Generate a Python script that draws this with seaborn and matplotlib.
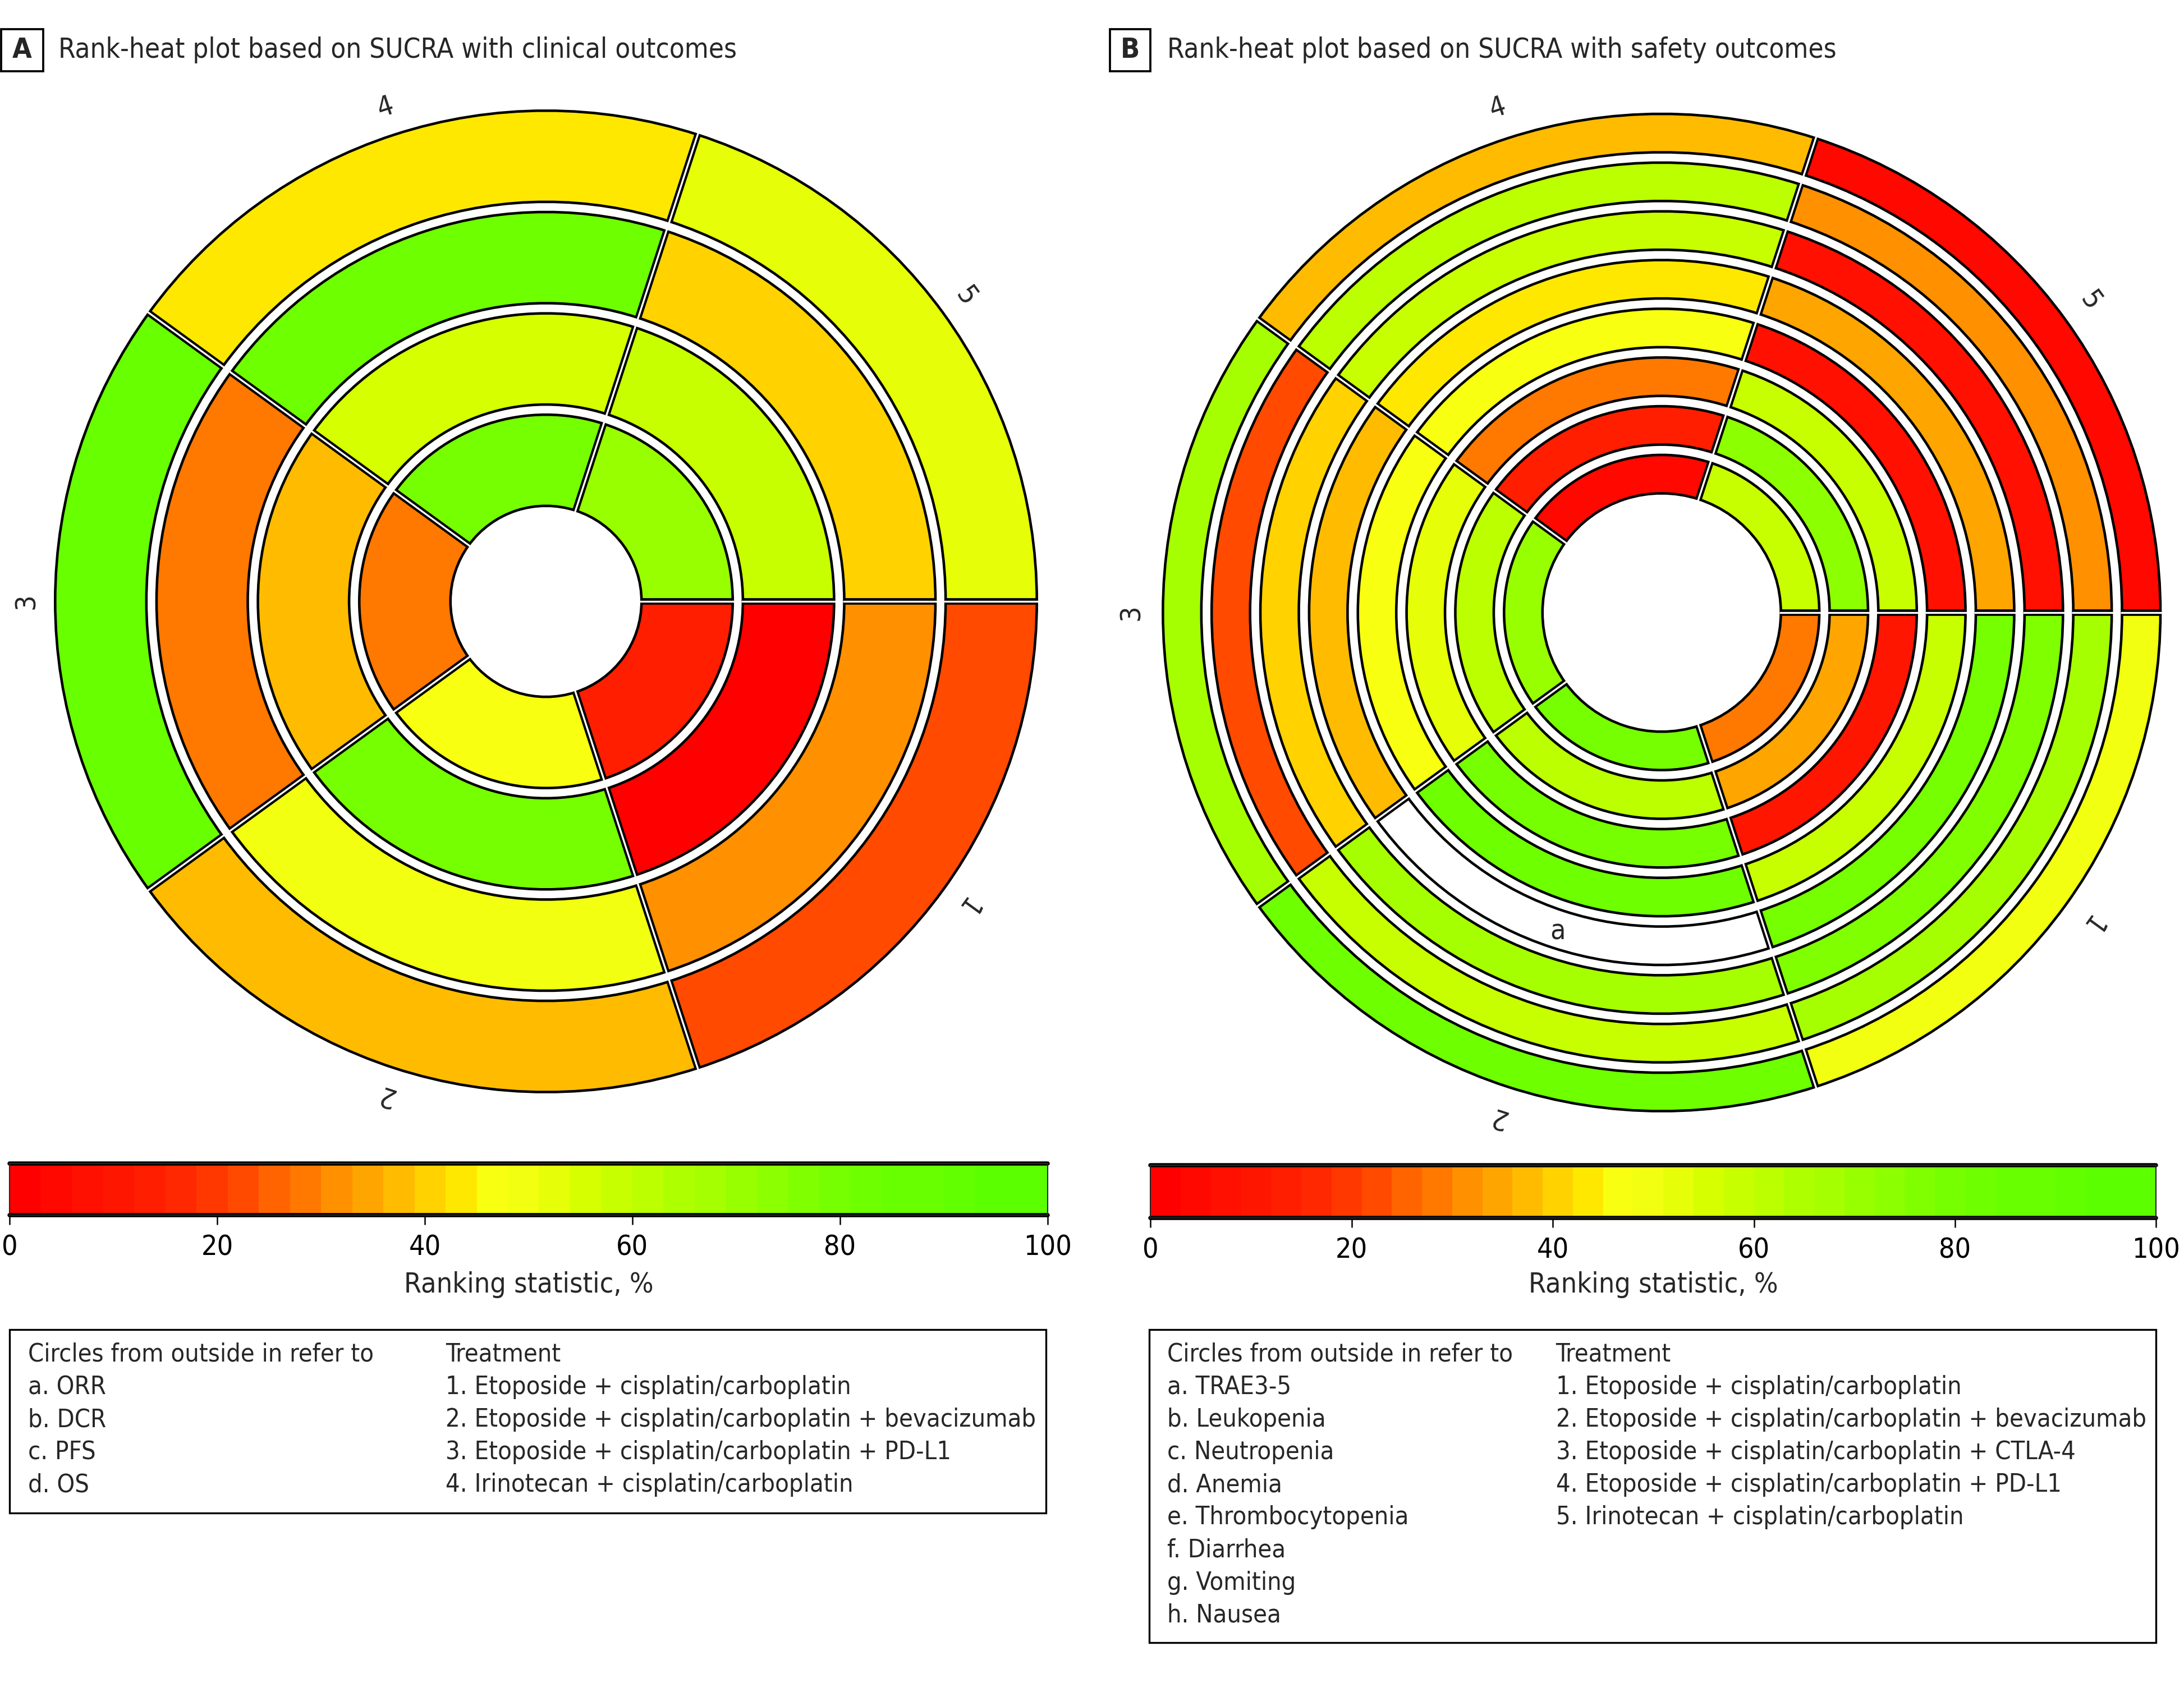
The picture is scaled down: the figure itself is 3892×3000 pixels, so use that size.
import os
import numpy as np
import matplotlib
matplotlib.use("Agg")
import matplotlib.pyplot as plt
import seaborn as sns
from matplotlib import font_manager as fm
from matplotlib.colors import ListedColormap, BoundaryNorm
from matplotlib.cm import ScalarMappable
from matplotlib.patches import Rectangle

sns.set_theme(style="white")

# ------------------------------------------------------------------
#  Data (SUCRA, %), sectors = treatments 1..5, rings from outside in
# ------------------------------------------------------------------
treat_labels = ["1", "2", "3", "4", "5"]

# panel A - clinical outcomes
orr = [21, 37, 86, 43, 51]
dcr = [31, 48, 28, 81, 40]
pfs = [1, 80, 37, 56, 58]
os_ = [14, 47, 28, 79, 69]

# panel B - safety outcomes
trae = [48, 83, 67, 37, 4]
leukopenia = [68, 57, 23, 62, 31]
neutropenia = [77, 67, 40, 58, 6]
anemia = [79, np.nan, 37, 43, 34]
thrombocytopenia = [59, 81, 46, 47, 6]
diarrhea = [9, 80, 53, 28, 59]
vomiting = [34, 60, 62, 14, 74]
nausea = [28, 78, 70, 4, 59]

outcomes_a = ["a. ORR", "b. DCR", "c. PFS", "d. OS"]
treatments_a = ["1. Etoposide + cisplatin/carboplatin",
                "2. Etoposide + cisplatin/carboplatin + bevacizumab",
                "3. Etoposide + cisplatin/carboplatin + PD-L1",
                "4. Irinotecan + cisplatin/carboplatin"]
outcomes_b = ["a. TRAE3-5", "b. Leukopenia", "c. Neutropenia", "d. Anemia",
              "e. Thrombocytopenia", "f. Diarrhea", "g. Vomiting", "h. Nausea"]
treatments_b = ["1. Etoposide + cisplatin/carboplatin",
                "2. Etoposide + cisplatin/carboplatin + bevacizumab",
                "3. Etoposide + cisplatin/carboplatin + CTLA-4",
                "4. Etoposide + cisplatin/carboplatin + PD-L1",
                "5. Irinotecan + cisplatin/carboplatin"]


# ------------------------------------------------------------------
#  Font: look for a narrow / condensed face, else shrink DejaVu
# ------------------------------------------------------------------
def pick_narrow_font():
    files = fm.findSystemFonts() + [f.fname for f in fm.fontManager.ttflist]
    prefs = ["liberationsansnarrow-regular", "dejavusanscondensed.ttf",
             "robotocondensed-regular", "opensans_condensed-regular",
             "opensanscondensed-regular", "notosans-condensed.ttf",
             "notosans-condensed"]
    for p in prefs:
        for f in files:
            if p in os.path.basename(f).lower():
                return f
    return None


narrow = pick_narrow_font()
if narrow:
    fm.fontManager.addfont(narrow)
    fam = fm.FontProperties(fname=narrow).get_name()
    plt.rcParams["font.family"] = [fam, "DejaVu Sans"]
    if "condensed" in narrow.lower():
        plt.rcParams["font.stretch"] = "condensed"
    FS = 12
else:
    plt.rcParams["font.family"] = ["DejaVu Sans"]
    FS = 10
FS_LEG = FS * 0.9

# ------------------------------------------------------------------
#  Colour scale (red -> yellow -> green, 3-point steps)
# ------------------------------------------------------------------
ramp = ["#FF0000", "#FF0800", "#FF1000", "#FF1600", "#FF1E00", "#FF2800",
        "#FF3800", "#FF4A00", "#FF6400", "#FF7800", "#FF9000", "#FFA500",
        "#FFBB00", "#FFD200", "#FFE800", "#F8FF10", "#F2FF10", "#E6FF08",
        "#D6FF00", "#C8FF00", "#BBFF00", "#AEFF00", "#A6FF00", "#98FF00",
        "#8CFF00", "#80FF00", "#76FF00", "#6EFF00", "#68FF00", "#68FF00",
        "#62FF00", "#5CFF00", "#5CFF00", "#5CFF00"]
cmap = ListedColormap(ramp)
bounds = list(range(0, 100, 3)) + [100]
norm = BoundaryNorm(bounds, cmap.N)

# layout is worked out in reference pixels (shrunk 1568x1209)
W, H = 1568.0, 1209.0

fig = plt.figure(figsize=(3892 / 300, 3000 / 300), dpi=300)


def rank_heat(cx, cy, half, rings, hole, ring_w, gap, label_r, extra=None):
    ax = fig.add_axes([(cx - half) / W, 1 - (cy + half) / H, 2 * half / W, 2 * half / H],
                      projection="polar")
    ax.set_theta_zero_location("E")
    ax.set_theta_direction(-1)
    ax.set_ylim(0, half)
    ax.set_axis_off()

    n = len(rings)
    nsec = len(rings[0])
    step = 360 / nsec
    mids = np.deg2rad(np.arange(nsec) * step + step / 2)
    outer = hole + n * ring_w + (n - 1) * gap
    for i, vals in enumerate(rings):
        top = outer - i * (ring_w + gap)
        bottom = top - ring_w
        cols = ["white" if np.isnan(v) else cmap(norm(v)) for v in vals]
        ax.bar(mids, ring_w, width=np.deg2rad(step), bottom=bottom, color=cols,
               edgecolor="black", linewidth=1.1, align="center")
        for k in range(nsec):
            th = np.deg2rad(k * step)
            ax.plot([th, th], [bottom, top], color="black", lw=2.8,
                    solid_capstyle="butt")
            ax.plot([th, th], [bottom - 1.2, top + 1.2], color="white", lw=0.8,
                    solid_capstyle="butt")

    for k, lab in enumerate(treat_labels[:nsec]):
        mid = k * step + step / 2
        ax.text(np.deg2rad(mid), label_r, lab, rotation=(-mid - 90) % 360,
                rotation_mode="anchor", ha="center", va="center", fontsize=FS)
    if extra is not None:
        ax.text(np.deg2rad(extra[0]), extra[1], extra[2], ha="center", va="center",
                fontsize=FS)
    return ax


rank_heat(392, 432, 392, [orr, dcr, pfs, os_], hole=68.6, ring_w=65.5, gap=7.3,
          label_r=373)
rank_heat(1193, 440, 375,
          [trae, leukopenia, neutropenia, anemia, thrombocytopenia, diarrhea,
           vomiting, nausea],
          hole=85.6, ring_w=27.6, gap=7.4, label_r=381, extra=(108, 241, "a"))


def panel_title(x0, x1, tx, letter, text):
    fig.add_artist(Rectangle((x0 / W, 1 - 51 / H), (x1 - x0) / W, 30 / H,
                             transform=fig.transFigure, fill=False,
                             ec="black", lw=0.9))
    fig.text((x0 + x1) / 2 / W, 1 - 36 / H, letter, ha="center", va="center",
             fontsize=FS, fontweight="bold")
    fig.text(tx / W, 1 - 36 / H, text, ha="left", va="center", fontsize=FS * 0.98)


panel_title(1, 31, 42, "A", "Rank-heat plot based on SUCRA with clinical outcomes")
panel_title(797, 826, 838, "B", "Rank-heat plot based on SUCRA with safety outcomes")


def colour_bar(x0, x1, y0, y1):
    cax = fig.add_axes([x0 / W, 1 - y1 / H, (x1 - x0) / W, (y1 - y0) / H])
    cb = fig.colorbar(ScalarMappable(norm=norm, cmap=cmap), cax=cax,
                      orientation="horizontal", spacing="proportional",
                      ticks=[0, 20, 40, 60, 80, 100])
    cb.outline.set_linewidth(0.5)
    cb.ax.set_xticklabels(["0", "20", "40", "60", "80", "100"])
    cax.minorticks_off()
    cax.tick_params(axis="x", which="minor", length=0)
    cax.tick_params(axis="x", which="major", bottom=True, length=4, width=0.6,
                    labelsize=FS, pad=4, colors="black")
    for yy in (0, 1):
        cax.plot([0, 1], [yy, yy], transform=cax.transAxes, color="black",
                 lw=1.8, clip_on=False)
    fig.text((x0 + x1) / 2 / W, 1 - 923 / H, "Ranking statistic, %",
             ha="center", va="center", fontsize=FS)


colour_bar(7, 752, 836, 873)
colour_bar(826, 1548, 837, 875)


def legend_box(x0, x1, y0, y1, col2, left_items, right_items):
    fig.add_artist(Rectangle((x0 / W, 1 - y1 / H), (x1 - x0) / W, (y1 - y0) / H,
                             transform=fig.transFigure, fill=False,
                             ec="black", lw=0.8))
    tx = x0 + 13
    fig.text(tx / W, 1 - 973 / H, "Circles from outside in refer to",
             ha="left", va="center", fontsize=FS_LEG)
    fig.text(col2 / W, 1 - 973 / H, "Treatment", ha="left", va="center",
             fontsize=FS_LEG)
    for i, s in enumerate(left_items):
        fig.text(tx / W, 1 - (996.5 + 23.4 * i) / H, s, ha="left", va="center",
                 fontsize=FS_LEG)
    for i, s in enumerate(right_items):
        fig.text(col2 / W, 1 - (996.5 + 23.4 * i) / H, s, ha="left", va="center",
                 fontsize=FS_LEG)


legend_box(7, 751, 955, 1087, 320, outcomes_a, treatments_a)
legend_box(825, 1548, 955, 1180, 1117, outcomes_b, treatments_b)

fig.savefig("out.png", dpi=300, facecolor="white")
